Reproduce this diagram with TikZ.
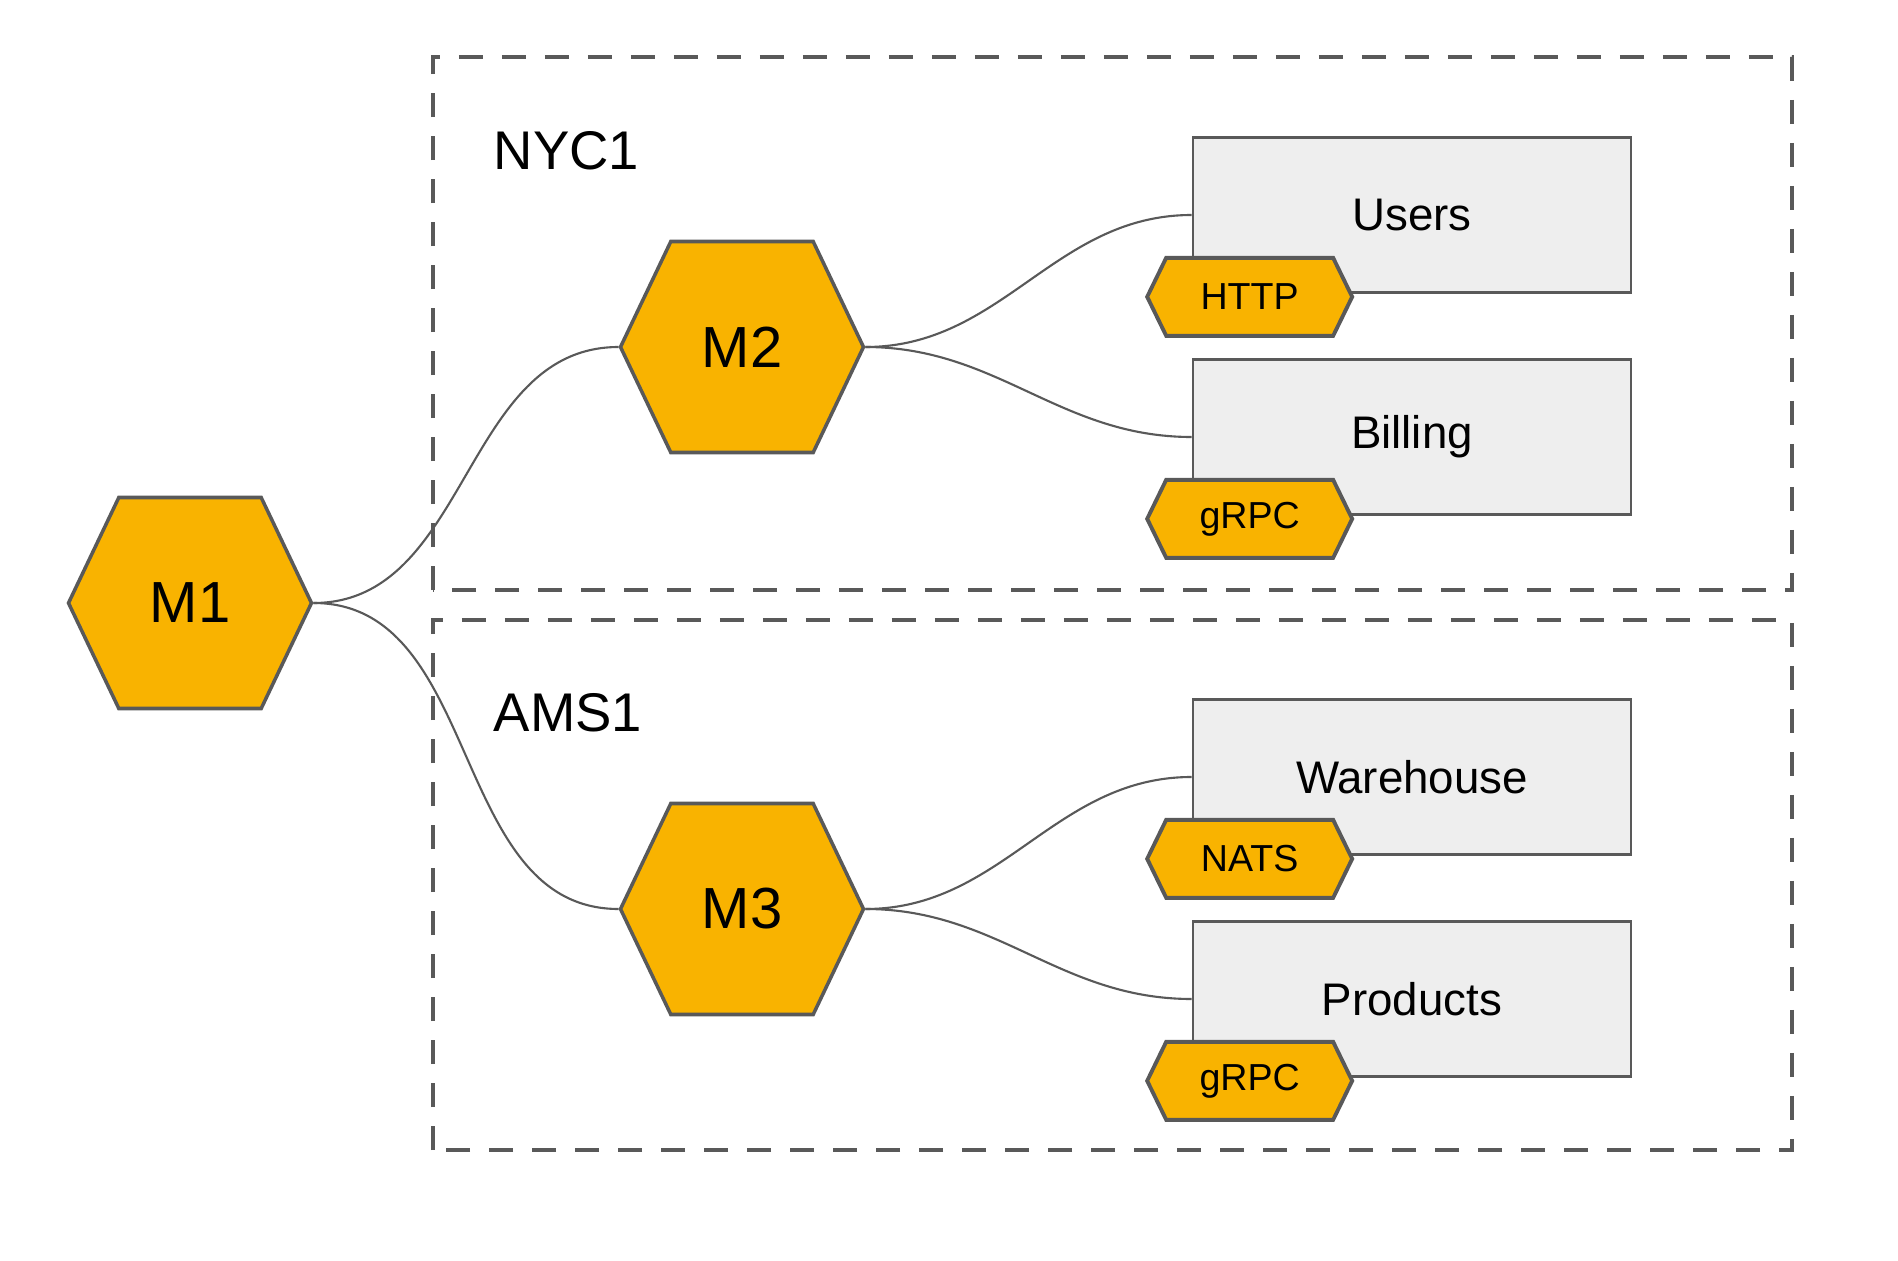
\documentclass[tikz,border=0pt]{standalone}
\usepackage{fontspec}
\setmainfont{Liberation Sans}
\usepackage{tikz}
\usetikzlibrary{shapes.symbols}
\definecolor{meshorange}{HTML}{F9B300}
\definecolor{meshgray}{HTML}{595959}
\definecolor{svcfill}{HTML}{EEEEEE}
\tikzstyle{hexa} = [signal, signal to=east and west, signal pointer angle=129, minimum width=2.43cm, minimum height=2.11cm, inner sep=0pt, fill=meshorange, draw=meshgray, line width=1pt, font=\fontsize{16.5}{19}\selectfont]
\tikzstyle{service} = [rectangle, minimum width=4.38cm, minimum height=1.55cm, fill=svcfill, draw=meshgray, line width=0.75pt, font=\fontsize{13}{16}\selectfont]
\tikzstyle{proto} = [signal, signal to=east and west, signal pointer angle=128, minimum width=2.05cm, minimum height=0.78cm, inner sep=0pt, fill=meshorange, draw=meshgray, line width=1.1pt, font=\fontsize{10.7}{13}\selectfont]
\tikzstyle{region} = [draw=meshgray, line width=1.2pt, dash pattern=on 0.245cm off 0.185cm]
\tikzstyle{zone} = [anchor=west, inner sep=0pt, font=\fontsize{15.5}{19}\selectfont]
\tikzstyle{link} = [draw=meshgray, line width=0.6pt]

\begin{document}
\begin{tikzpicture}[node distance=2cm]
\useasboundingbox (0,0) rectangle (18.98,12.60);
% regions
\draw [region] (4.33,6.70) rectangle (17.92,12.03);
\draw [region] (4.33,1.10) rectangle (17.92,6.40);
\node (nyc1) [zone] at (4.93,11.09) {NYC1};
\node (ams1) [zone] at (4.93,5.47) {AMS1};
% meshes
\node (m1) [hexa] at (1.90,6.57) {M1};
\node (m2) [hexa, right of=m1, xshift=3.52cm, yshift=2.56cm] {M2};
\node (m3) [hexa, right of=m1, xshift=3.52cm, yshift=-3.06cm] {M3};
% services
\node (users) [service, right of=m2, xshift=4.70cm, yshift=1.32cm] {Users};
\node (billing) [service, right of=m2, xshift=4.70cm, yshift=-0.90cm] {Billing};
\node (warehouse) [service, right of=m3, xshift=4.70cm, yshift=1.32cm] {Warehouse};
\node (products) [service, right of=m3, xshift=4.70cm, yshift=-0.90cm] {Products};
\node (http) [proto] at ([shift={(0.58,-0.03)}]users.south west) {HTTP};
\node (grpc1) [proto] at ([shift={(0.58,-0.03)}]billing.south west) {gRPC};
\node (nats) [proto] at ([shift={(0.58,-0.03)}]warehouse.south west) {NATS};
\node (grpc2) [proto] at ([shift={(0.58,-0.03)}]products.south west) {gRPC};
% links
\draw [link] (m1.east) to[out=0,in=180] (m2.west);
\draw [link] (m1.east) to[out=0,in=180] (m3.west);
\draw [link] (m2.east) to[out=0,in=180] (users.west);
\draw [link] (m2.east) to[out=0,in=180] (billing.west);
\draw [link] (m3.east) to[out=0,in=180] (warehouse.west);
\draw [link] (m3.east) to[out=0,in=180] (products.west);
\end{tikzpicture}
\end{document}
